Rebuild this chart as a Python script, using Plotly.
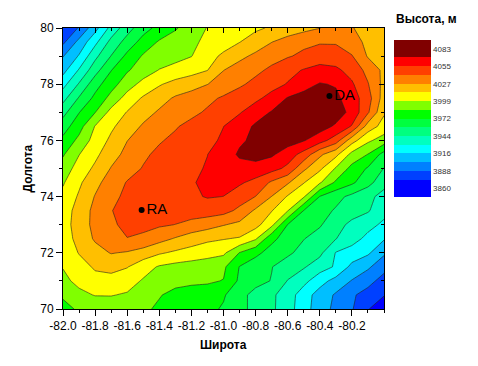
import plotly.graph_objects as go

longitude = [-82.0, -81.9, -81.8, -81.7, -81.6, -81.5, -81.4, -81.3, -81.2, -81.1, -81.0,
             -80.9, -80.8, -80.7, -80.6, -80.5, -80.4, -80.3, -80.2, -80.1, -80.0]
latitude = [70.0, 70.5, 71.0, 71.5, 72.0, 72.5, 73.0, 73.5, 74.0, 74.5, 75.0,
            75.5, 76.0, 76.5, 77.0, 77.5, 78.0, 78.5, 79.0, 79.5, 80.0]

# Height, bottom row (lat 70) first
height = [
    [3982,3987,3990,3992,3990,3987,3984,3981,3978,3975,3970,3962,3953,3946,3936,3921,3909,3898,3889,3875,3862],
    [3987,3996,4000,4000,3998,3992,3986,3983,3982,3980,3973,3962,3953,3946,3937,3922,3910,3900,3890,3882,3875],
    [3996,4003,4009,4009,4005,3998,3991,3988,3987,3987,3985,3969,3962,3957,3943,3934,3921,3911,3901,3893,3882],
    [4000,4008,4015,4017,4014,4005,3998,3995,3993,3991,3988,3971,3964,3958,3951,3945,3936,3928,3912,3904,3893],
    [4004,4014,4022,4028,4026,4021,4015,4011,4008,4005,4002,3985,3975,3966,3960,3953,3947,3929,3924,3918,3904],
    [4006,4018,4029,4037,4041,4039,4032,4026,4020,4016,4014,4012,4001,3975,3965,3958,3952,3944,3935,3926,3917],
    [4007,4020,4031,4040,4043,4044,4043,4041,4037,4033,4028,4024,4018,4003,3971,3964,3959,3949,3940,3934,3927],
    [4006,4019,4031,4041,4043,4045,4046,4047,4048,4048,4046,4038,4025,4014,4000,3971,3963,3956,3950,3945,3934],
    [4003,4015,4028,4039,4043,4046,4048,4050,4053,4056,4055,4048,4041,4027,4012,4001,3971,3962,3954,3948,3938],
    [3998,4011,4023,4034,4042,4045,4048,4051,4054,4058,4059,4057,4051,4039,4029,4014,4001,3983,3974,3962,3949],
    [3992,4005,4016,4028,4036,4042,4046,4050,4053,4056,4060,4064,4064,4060,4052,4030,4016,3998,3981,3970,3957],
    [3984,3999,4010,4022,4031,4039,4044,4048,4051,4055,4062,4071,4074,4071,4062,4050,4030,4017,3995,3985,3966],
    [3975,3989,4005,4016,4027,4033,4040,4044,4048,4052,4057,4067,4072,4076,4075,4070,4061,4048,4019,4002,3993],
    [3965,3980,4000,4011,4020,4029,4035,4040,4045,4050,4055,4063,4071,4076,4079,4080,4075,4067,4054,4021,4008],
    [3953,3971,3985,4004,4014,4022,4029,4034,4038,4043,4049,4054,4063,4070,4076,4080,4080,4076,4065,4043,4015],
    [3939,3959,3975,3990,4005,4015,4022,4029,4033,4038,4043,4048,4052,4060,4070,4074,4078,4072,4062,4047,4021],
    [3925,3945,3966,3980,3993,4004,4012,4018,4022,4027,4033,4039,4045,4050,4056,4064,4070,4068,4057,4042,4023],
    [3911,3931,3952,3971,3984,3992,4000,4004,4008,4013,4027,4033,4038,4044,4051,4056,4060,4058,4050,4037,4024],
    [3901,3917,3940,3958,3975,3987,3991,3995,3999,4008,4016,4024,4030,4036,4040,4044,4048,4047,4042,4026,4021],
    [3885,3906,3926,3948,3963,3977,3987,3992,3997,4002,4007,4013,4020,4027,4033,4038,4040,4040,4033,4024,4019],
    [3876,3889,3911,3934,3952,3966,3976,3984,3992,4000,4003,4007,4011,4015,4019,4023,4027,4031,4028,4022,4018],
]

level_start = 3860
level_end = 4083
level_step = 13.9375
bar_min = 3846.0625
bar_max = 4096.9375
band_colors = ["#0000ff", "#0000ff", "#0040ff", "#0080ff", "#00bfff", "#00ffff", "#00ffbf",
               "#00ff80", "#00ff40", "#00ff00", "#80ff00", "#ffff00", "#ffbf00", "#ff8000",
               "#ff4000", "#ff0000", "#800000", "#800000"]
bar_ticks = [3860, 3888, 3916, 3944, 3972, 3999, 4027, 4055, 4083]

station_names = ["RA", "DA"]
station_lon = [-81.51, -80.34]
station_lat = [73.52, 77.58]

x_ticks = [-82.0, -81.8, -81.6, -81.4, -81.2, -81.0, -80.8, -80.6, -80.4, -80.2]
x_labels = ["-82.0", "-81.8", "-81.6", "-81.4", "-81.2", "-81.0", "-80.8", "-80.6", "-80.4", "-80.2"]

n = len(band_colors) - 1
smooth_scale = [[i / n, c] for i, c in enumerate(band_colors)]
m = len(band_colors)
step_scale = []
for i, c in enumerate(band_colors):
    step_scale += [[i / m, c], [(i + 1) / m, c]]
levels = dict(start=level_start, end=level_end, size=level_step)
font = "Liberation Sans, Arial, sans-serif"

fig = go.Figure()
fig.add_trace(go.Heatmap(
    x=longitude, y=latitude, z=height, colorscale=step_scale, zmin=bar_min, zmax=bar_max,
    hoverinfo="skip",
    colorbar=dict(
        thickness=37, thicknessmode="pixels", len=157, lenmode="pixels",
        x=1.03, xanchor="left", xpad=0, y=0.957, yanchor="top", ypad=0,
        outlinewidth=0, borderwidth=0, ticks="", ticklen=2,
        tickmode="array", tickvals=bar_ticks, ticktext=[str(v) for v in bar_ticks],
        tickfont=dict(family=font, size=8, color="#333333"),
    ),
))
fig.add_trace(go.Contour(
    x=longitude, y=latitude, z=height, colorscale=smooth_scale, showscale=False, hoverinfo="skip",
    contours=dict(coloring="fill", showlines=True, **levels),
    line=dict(color="#222222", width=0.6, smoothing=0),
))
fig.add_trace(go.Scatter(
    x=station_lon, y=station_lat, mode="markers+text", text=station_names,
    textposition="middle right", textfont=dict(family=font, size=15, color="black"),
    marker=dict(color="black", size=6), showlegend=False, hoverinfo="skip",
))
fig.add_trace(go.Scatter(
    x=station_lon, y=station_lat, xaxis="x2", yaxis="y2", mode="markers",
    marker=dict(opacity=0), showlegend=False, hoverinfo="skip",
))

fig.update_layout(
    width=478, height=366, autosize=False, showlegend=False,
    margin=dict(l=63, r=94, t=28, b=57, pad=0),
    paper_bgcolor="white", plot_bgcolor="white",
    font=dict(family=font, size=12, color="black"),
    xaxis=dict(
        range=[-82, -80], tickmode="array", tickvals=x_ticks, ticktext=x_labels,
        ticks="outside", ticklen=6, tickwidth=1, tickcolor="black", showgrid=False,
        zeroline=False, showline=True, linecolor="black", linewidth=1, automargin=False,
        minor=dict(dtick=0.1, ticks="outside", ticklen=3, tickcolor="black", showgrid=False),
        tickfont=dict(family=font, size=12),
    ),
    yaxis=dict(
        range=[70, 80], dtick=2, tick0=70, tickformat="d",
        ticks="outside", ticklen=6, tickwidth=1, tickcolor="black", showgrid=False,
        zeroline=False, showline=True, linecolor="black", linewidth=1, automargin=False,
        minor=dict(dtick=1, ticks="outside", ticklen=3, tickcolor="black", showgrid=False),
        tickfont=dict(family=font, size=12),
    ),
    xaxis2=dict(
        range=[-82, -80], overlaying="x", side="top", anchor="y2", dtick=0.2, tick0=-82,
        ticks="inside", ticklen=5, tickcolor="black", showticklabels=False, showgrid=False,
        zeroline=False, showline=True, linecolor="black", linewidth=1,
        minor=dict(dtick=0.1, ticks="inside", ticklen=3, tickcolor="black", showgrid=False),
    ),
    yaxis2=dict(
        range=[70, 80], overlaying="y", side="right", anchor="x2", dtick=2, tick0=70,
        ticks="inside", ticklen=5, tickcolor="black", showticklabels=False, showgrid=False,
        zeroline=False, showline=True, linecolor="black", linewidth=1,
        minor=dict(dtick=1, ticks="inside", ticklen=3, tickcolor="black", showgrid=False),
    ),
    annotations=[
        dict(text="<b>Высота, м</b>", xref="paper", yref="paper", x=1.03, y=1.0,
             xanchor="left", yanchor="bottom", showarrow=False,
             font=dict(family=font, size=12, color="black")),
        dict(text="<b>Широта</b>", xref="paper", yref="paper", x=0.5, y=-0.127,
             xanchor="center", yanchor="middle", showarrow=False,
             font=dict(family=font, size=12, color="black")),
        dict(text="<b>Долгота</b>", xref="paper", yref="paper", x=-0.112, y=0.5,
             xanchor="center", yanchor="middle", showarrow=False, textangle=-90,
             font=dict(family=font, size=12, color="black")),
    ],
)

fig.write_html("out.html", config=dict(displayModeBar=False),
               post_script="document.body.style.margin='0';document.documentElement.style.overflow='hidden';")
